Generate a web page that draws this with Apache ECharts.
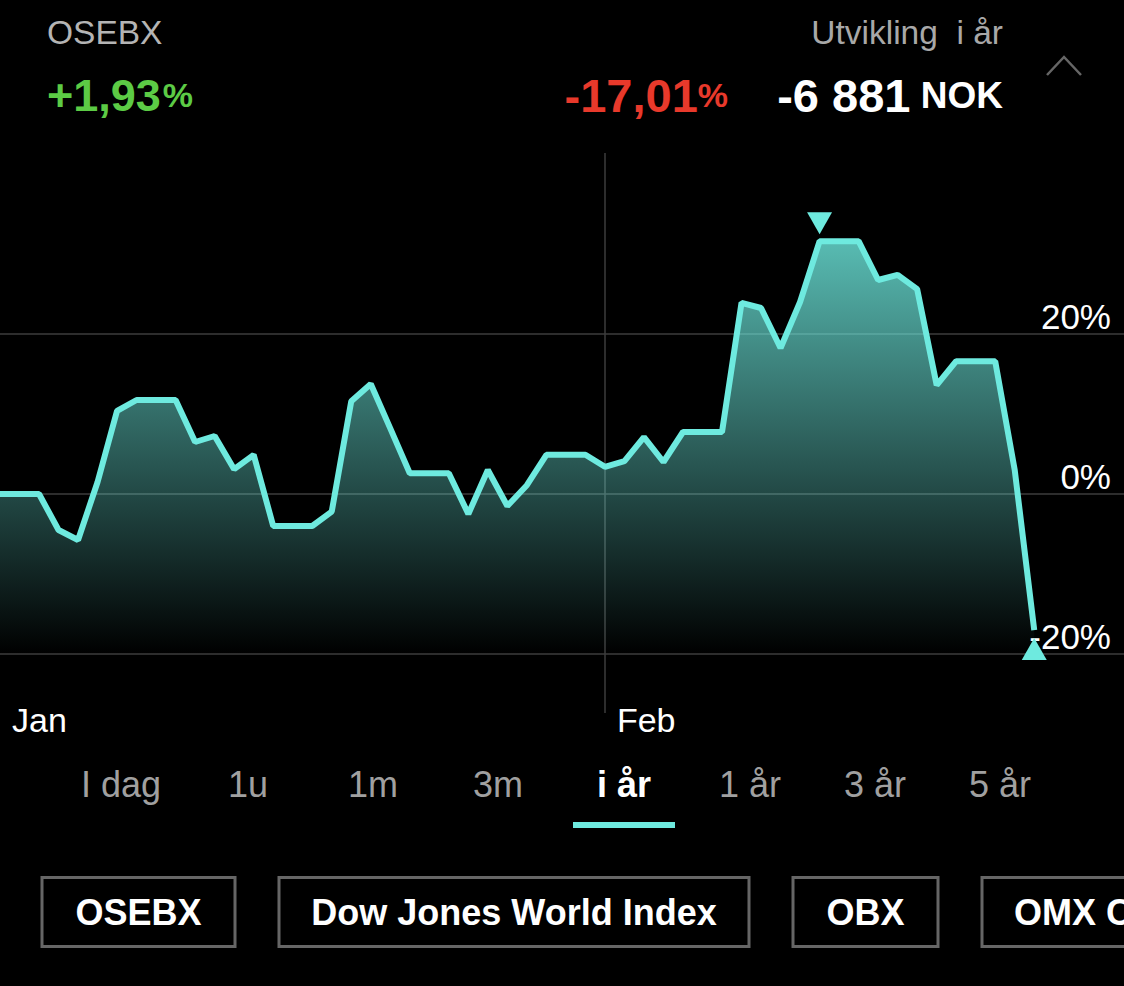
<!DOCTYPE html>
<html>
<head>
<meta charset="utf-8">
<style>
    html, body { margin: 0; padding: 0; background: #000; }
    #chart { width: 1124px; height: 986px; }
</style>
<script src="https://cdn.jsdelivr.net/npm/echarts@6/dist/echarts.min.js"></script>
</head>
<body>
<div id="chart"></div>
<script>
const returns = [
    0, 0, 0, -4.5, -5.75, 1.5, 10.4, 11.75, 11.75, 11.75,
    6.5, 7.25, 3.1, 4.9, -4, -4, -4, -2.2, 11.6, 13.75,
    8.2, 2.6, 2.6, 2.6, -2.5, 3, -1.5, 1.1, 4.9, 4.9,
    4.9, 3.4, 4.1, 7.1, 4, 7.75, 7.75, 7.75, 23.9, 23.25,
    18.25, 24, 31.6, 31.6, 31.6, 26.75, 27.4, 25.6, 13.6, 16.6,
    16.6, 16.6, 3, -17.01
];
const yTicks = [-20, 0, 20];
const monthTicks = [0, 31];
const monthLabels = ['Jan', 'Feb'];
const periods = ['I dag', '1u', '1m', '3m', 'i år', '1 år', '3 år', '5 år'];
const indices = ['OSEBX', 'Dow Jones World Index', 'OBX', 'OMX C25'];

const font = '"Liberation Sans", Arial, sans-serif';
const accent = '#6eeadf';

const periodX = [121, 248, 373, 498, 624, 750, 875, 1000];
const buttonBoxes = [[42, 193], [279, 470], [793, 145], [982, 200]];

const graphic = [
    { type: 'text', x: 47, y: 32, style: { text: 'OSEBX', font: '33.5px ' + font, fill: '#b4b4b4', verticalAlign: 'middle' } },
    { type: 'text', x: 1003, y: 32, style: { text: 'Utvikling  i år', font: '33.5px ' + font, fill: '#a8a8a8', align: 'right', verticalAlign: 'middle' } },
    {
        type: 'text', x: 47, y: 95,
        style: {
            text: '{a|+1,93}{b|%}', verticalAlign: 'middle', fill: '#5ccb45',
            rich: {
                a: { font: 'bold 45px ' + font, fill: '#5ccb45' },
                b: { font: 'bold 34px ' + font, fill: '#5ccb45', padding: [0, 0, 0, 2] }
            }
        }
    },
    {
        type: 'text', x: 728, y: 95,
        style: {
            text: '{a|-17,01}{b|%}', align: 'right', verticalAlign: 'middle', fill: '#e8392b',
            rich: {
                a: { font: 'bold 47px ' + font, fill: '#e8392b' },
                b: { font: 'bold 34px ' + font, fill: '#e8392b' }
            }
        }
    },
    {
        type: 'text', x: 1003, y: 95,
        style: {
            text: '{a|-6 881} {b|NOK}', align: 'right', verticalAlign: 'middle', fill: '#fff',
            rich: {
                a: { font: 'bold 47px ' + font, fill: '#fff' },
                b: { font: 'bold 37px ' + font, fill: '#fff', padding: [0, 0, 0, 7] }
            }
        }
    },
    { type: 'polyline', shape: { points: [[1047, 75], [1064, 57], [1081, 75]] }, style: { stroke: '#666', lineWidth: 2.5, fill: null } },
    { type: 'rect', shape: { x: 573, y: 822, width: 102, height: 6 }, style: { fill: accent } }
];

periods.forEach((label, i) => {
    graphic.push({
        type: 'text', x: periodX[i], y: 784,
        style: {
            text: label,
            font: (label === 'i år' ? 'bold ' : '') + '36px ' + font,
            fill: label === 'i år' ? '#fff' : '#a0a0a0',
            align: 'center', verticalAlign: 'middle'
        }
    });
});

indices.forEach((label, i) => {
    const [x, w] = buttonBoxes[i];
    graphic.push({ type: 'rect', shape: { x: x, y: 877.5, width: w, height: 69 }, style: { fill: 'transparent', stroke: '#666', lineWidth: 3 } });
    graphic.push({
        type: 'text', x: i === 3 ? x + 32 : x + w / 2, y: 912,
        style: { text: label, font: 'bold 36px ' + font, fill: '#fff', align: i === 3 ? 'left' : 'center', verticalAlign: 'middle' }
    });
});

const chart = echarts.init(document.getElementById('chart'), null, { renderer: 'svg' });

chart.setOption({
    backgroundColor: '#000',
    animation: false,
    grid: { left: 0, right: 0, top: 153, bottom: 273 },
    graphic: graphic,
    xAxis: {
        type: 'value',
        min: 0,
        max: 57.6,
        axisLine: { show: false },
        axisTick: { show: false, customValues: [31] },
        axisLabel: {
            customValues: monthTicks,
            formatter: value => monthLabels[monthTicks.indexOf(value)],
            color: '#fff',
            fontFamily: font,
            fontSize: 34,
            align: 'left',
            verticalAlign: 'top',
            margin: -10,
            padding: [0, 0, 0, 12]
        },
        splitLine: { show: true, lineStyle: { color: '#3c3c3c', width: 1.5 } }
    },
    yAxis: {
        type: 'value',
        position: 'right',
        min: -27.375,
        max: 42.625,
        axisLine: { show: false },
        axisTick: { show: false, customValues: yTicks },
        axisLabel: {
            inside: true,
            customValues: yTicks,
            formatter: '{value}%',
            color: '#fff',
            fontFamily: font,
            fontSize: 35,
            align: 'right',
            verticalAlign: 'bottom',
            margin: 13,
            padding: [0, 0, 0, 0]
        },
        splitLine: { show: true, lineStyle: { color: '#3c3c3c', width: 1.5 } }
    },
    series: [{
        type: 'line',
        data: returns.map((v, i) => [i, v]),
        showSymbol: false,
        lineStyle: { color: accent, width: 6 },
        areaStyle: {
            origin: yTicks[0],
            opacity: 1,
            color: new echarts.graphic.LinearGradient(0, 0, 0, 1, [
                { offset: 0, color: 'rgba(110,234,223,0.8)' },
                { offset: 1, color: 'rgba(110,234,223,0)' }
            ])
        },
        markPoint: {
            animation: false,
            label: { show: false },
            data: [
                { coord: [42, 31.6], symbol: 'triangle', symbolRotate: 180, symbolSize: [25, 22], symbolOffset: [0, -18], itemStyle: { color: accent } },
                { coord: [53, -17.01], symbol: 'triangle', symbolSize: [25, 22], symbolOffset: [0, 19], itemStyle: { color: accent } }
            ]
        }
    }]
});
</script>
</body>
</html>
